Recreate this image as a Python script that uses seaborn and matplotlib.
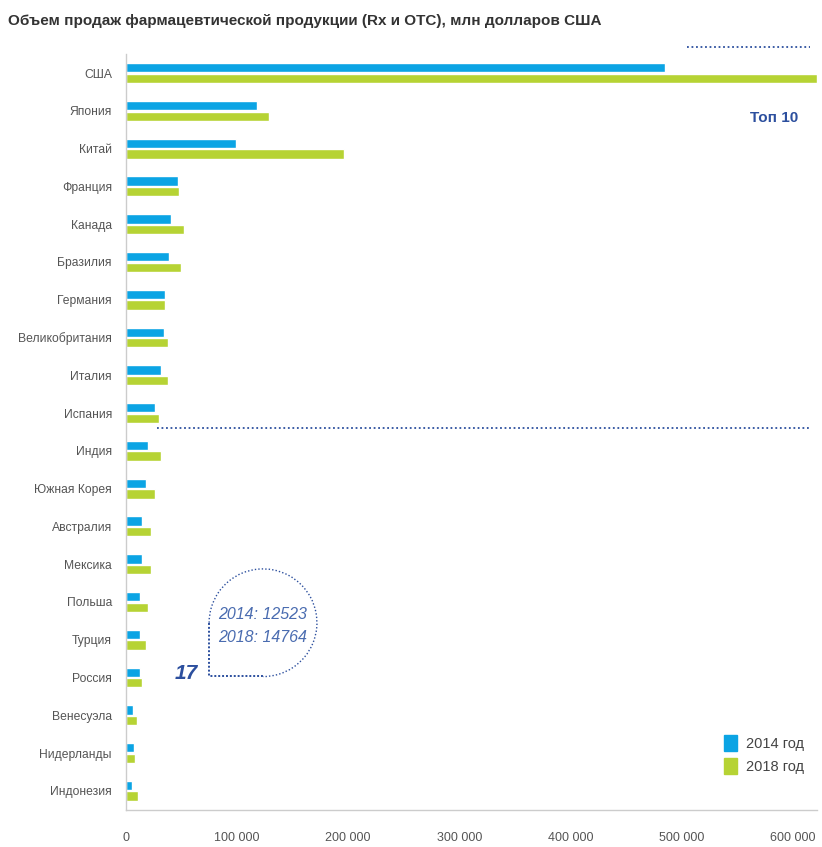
import numpy as np
import pandas as pd
import seaborn as sns
import matplotlib.pyplot as plt
from matplotlib.patches import Arc, Patch
from matplotlib.ticker import FuncFormatter

countries = ["США", "Япония", "Китай", "Франция", "Канада", "Бразилия", "Германия",
             "Великобритания", "Италия", "Испания", "Индия", "Южная Корея", "Австралия",
             "Мексика", "Польша", "Турция", "Россия", "Венесуэла", "Нидерланды", "Индонезия"]
sales_2014 = [485000, 118000, 99000, 47000, 41000, 39000, 35000, 34000, 32000, 26000,
              20000, 18000, 15000, 15000, 12600, 12600, 12523, 6300, 7000, 5400]
sales_2018 = [622000, 129000, 196000, 48000, 52000, 50000, 35000, 38000, 38000, 30000,
              32000, 26000, 23000, 22500, 20000, 18000, 14764, 10000, 8000, 10800]
years = ["2014 год", "2018 год"]
xticks = [0, 100000, 200000, 300000, 400000, 500000, 600000]

blue = "#0ba4e4"
green = "#b6d334"
navy = "#2c4f9e"

df = pd.DataFrame({
    "country": countries * 2,
    "value": sales_2014 + sales_2018,
    "year": [years[0]] * len(countries) + [years[1]] * len(countries),
})

sns.set_style("white")
plt.rcParams["font.family"] = ["Liberation Sans Narrow", "Liberation Sans", "DejaVu Sans"]

fig = plt.figure(figsize=(8.22, 8.47), dpi=100)
ax = fig.add_axes([0.153, 0.044, 0.841, 0.892])

sns.barplot(data=df, y="country", x="value", hue="year", orient="h",
            palette=[blue, green], width=0.56, gap=0.12, saturation=1,
            legend=False, ax=ax)

ax.set_xlim(0, 622000)
ax.set_ylim(len(countries) - 0.5, -0.5)
ax.set_xticks(xticks)
ax.xaxis.set_major_formatter(FuncFormatter(lambda v, p: "{:,}".format(int(v)).replace(",", " ")))
ax.tick_params(axis="x", length=0, pad=16, labelsize=9, labelcolor="#555555")
ax.tick_params(axis="y", length=0, pad=10, labelsize=8.7, labelcolor="#555555")
ax.set_xlabel("")
ax.set_ylabel("")
for s in ["top", "right"]:
    ax.spines[s].set_visible(False)
for s in ["left", "bottom"]:
    ax.spines[s].set_color("#cccccc")
    ax.spines[s].set_linewidth(1.0)

fig.text(0.01, 0.975, "Объем продаж фармацевтической продукции (Rx и ОТС), млн долларов США",
         fontsize=11, fontweight="bold", color="#333333", ha="left", va="center")

# top 10 separators
ax.plot([505000, 616000], [-0.68, -0.68], ls=(0, (1, 1.5)), color=navy, lw=1.3, clip_on=False)
ax.plot([28000, 616000], [9.4, 9.4], ls=(0, (1, 1.5)), color=navy, lw=1.3, clip_on=False)
ax.text(605000, 1.2, "Топ 10", ha="right", va="center", fontsize=11,
        fontweight="bold", color=navy)

# Russia callout
r = countries.index("Россия")
cx, cy = 123500, r - 1.45
ax.add_patch(Arc((cx, cy), 97000, 2.85, theta1=180, theta2=450,
                 ls=(0, (1, 1.5)), color=navy, lw=1.0))
ax.plot([cx - 48500, cx - 48500, cx], [cy, cy + 1.42, cy + 1.42],
        ls=(0, (1, 1)), color=navy, lw=1.4)
ax.text(cx, cy - 0.22, "2014: 12523", ha="center", va="center", fontsize=11.5,
        style="italic", color="#4a6cb0")
ax.text(cx, cy + 0.38, "2018: 14764", ha="center", va="center", fontsize=11.5,
        style="italic", color="#4a6cb0")
ax.text(cx - 59000, r - 0.1, "17", ha="right", va="center", fontsize=15,
        fontweight="bold", style="italic", color=navy)

handles = [Patch(color=blue, label=years[0]), Patch(color=green, label=years[1])]
ax.legend(handles=handles, loc="lower right", bbox_to_anchor=(1.0, 0.03), frameon=False,
          handlelength=0.9, handleheight=1.3, handletextpad=0.6, labelspacing=0.5,
          fontsize=10.5, labelcolor="#444444")

fig.savefig("out.png", dpi=100, facecolor="white")
